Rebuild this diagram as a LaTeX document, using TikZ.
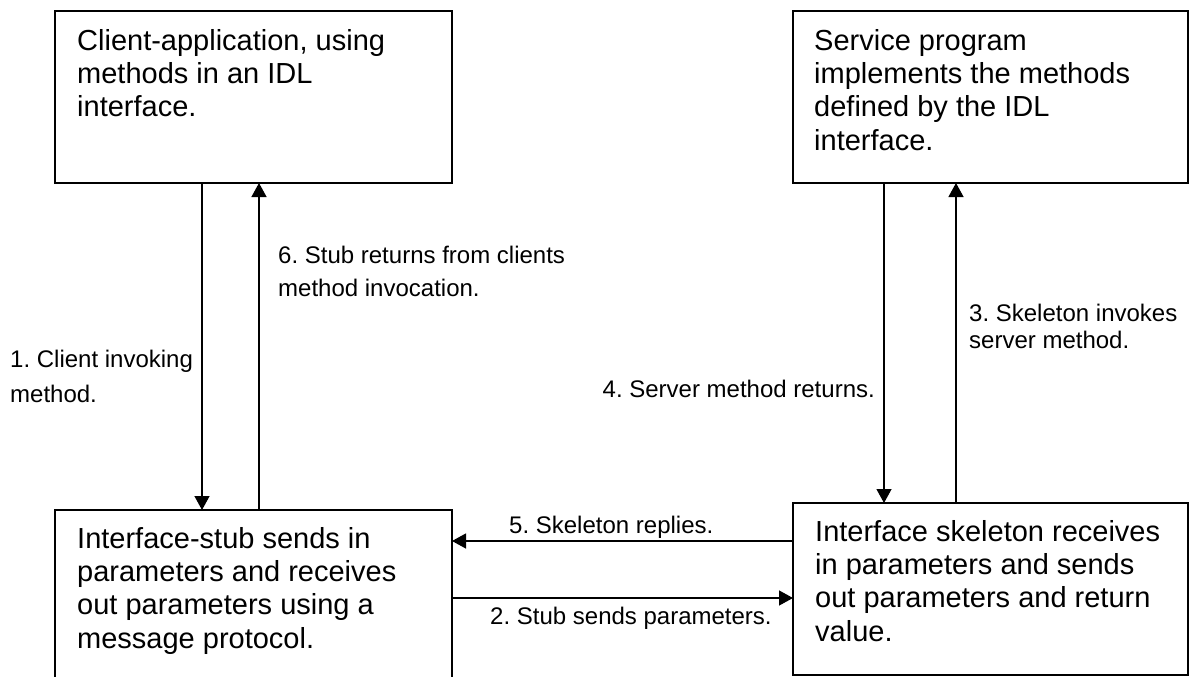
\documentclass[tikz,border=0pt]{standalone}
\usepackage{fontspec}
\setmainfont{Liberation Sans}
\usetikzlibrary{arrows.meta}
\frenchspacing

\tikzset{
  box/.style={draw, line width=1.8pt, rectangle, inner sep=0pt, outer sep=0pt, anchor=north west},
  boxtext/.style={anchor=base west, inner sep=0pt, align=left,
    font=\fontsize{29}{33.3}\selectfont},
  steplabel/.style={inner sep=0pt, align=left},
  conn/.style={line width=1.3pt, -{Triangle[length=14pt,width=15pt]}}
}

\begin{document}
\begin{tikzpicture}[x=1pt,y=-1pt]
  \useasboundingbox (0,0) rectangle (1189,677);
  \fill[white] (0,0) rectangle (1189,677);
  \clip (0,0) rectangle (1189,677);

  % the four components
  \node[box, minimum width=397pt, minimum height=172pt] (client)   at (55,11)  {};
  \node[box, minimum width=395pt, minimum height=172pt] (service)  at (793,11) {};
  \node[box, minimum width=397pt, minimum height=192pt] (stub)     at (55,510) {};
  \node[box, minimum width=395pt, minimum height=172pt] (skeleton) at (793,503) {};

  % box texts, placed by the baseline of their last line
  \node[boxtext] (clientT) at ([shift={(22,105.6)}]client.north west)
    {\frenchspacing Client-application, using\\methods in an IDL\\interface.};
  \node[boxtext] (serviceT) at ([shift={(21,139)}]service.north west)
    {\frenchspacing Service program\\implements the methods\\defined by the IDL\\interface.};
  \node[boxtext] (stubT) at ([shift={(22,138)}]stub.north west)
    {\frenchspacing Interface-stub sends in\\parameters and receives\\out parameters using a\\message protocol.};
  \node[boxtext] (skeletonT) at ([shift={(22,138)}]skeleton.north west)
    {\frenchspacing Interface skeleton receives\\in parameters and sends\\out parameters and return\\value.};

  % x positions of the vertical connectors, y positions of the horizontal ones
  \coordinate (xa) at (202,0);
  \coordinate (xb) at (259,0);
  \coordinate (xc) at (884,0);
  \coordinate (xd) at (956,0);
  \coordinate (ya) at (0,541);
  \coordinate (yb) at (0,598);

  \draw[conn] (xa |- client.south)  -- (xa |- stub.north);
  \draw[conn] (xb |- stub.north)    -- (xb |- client.south);
  \draw[conn] (xc |- service.south) -- (xc |- skeleton.north);
  \draw[conn] (xd |- skeleton.north) -- (xd |- service.south);
  \draw[conn] (skeleton.west |- ya) -- (stub.east |- ya);
  \draw[conn] (stub.east |- yb)     -- (skeleton.west |- yb);

  % step labels, placed by the baseline of their last line
  \node[steplabel, anchor=base west, font=\fontsize{24}{35}\selectfont] (l1) at (10,402)
    {\frenchspacing 1. Client invoking\\method.};
  \node[steplabel, anchor=base west, font=\fontsize{24}{24}\selectfont] (l2) at (490,624)
    {\frenchspacing 2. Stub sends parameters.};
  \node[steplabel, anchor=base west, font=\fontsize{24}{26.7}\selectfont] (l3) at (969,348)
    {\frenchspacing 3. Skeleton invokes\\server method.};
  \node[steplabel, anchor=base east, font=\fontsize{24}{24}\selectfont] (l4) at (875,397)
    {\frenchspacing 4. Server method returns.};
  \node[steplabel, anchor=base west, font=\fontsize{24}{24}\selectfont] (l5) at (509,533)
    {\frenchspacing 5. Skeleton replies.};
  \node[steplabel, anchor=base west, font=\fontsize{24}{33}\selectfont] (l6) at (278,296)
    {\frenchspacing 6. Stub returns from clients\\method invocation.};
\end{tikzpicture}
\end{document}
